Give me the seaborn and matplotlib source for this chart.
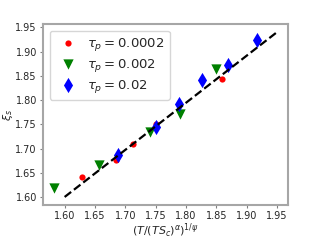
import numpy as np
import pandas as pd
import matplotlib
matplotlib.use("Agg")
import matplotlib.pyplot as plt
import seaborn as sns

# data
x_red = [1.628, 1.684, 1.713, 1.750, 1.859]
y_red = [1.642, 1.676, 1.709, 1.750, 1.844]

x_green = [1.583, 1.656, 1.740, 1.790, 1.849]
y_green = [1.619, 1.666, 1.734, 1.772, 1.865]

x_blue = [1.688, 1.751, 1.788, 1.826, 1.869, 1.917]
y_blue = [1.686, 1.744, 1.792, 1.841, 1.872, 1.924]

fit_x = [1.60, 1.95]
fit_y = [1.60, 1.94]

labels = [r"$\tau_p = 0.0002$", r"$\tau_p = 0.002$", r"$\tau_p = 0.02$"]


def main():
    sns.set_style("ticks")
    fig, ax = plt.subplots(figsize=(3.2, 2.4), dpi=100)
    fig.subplots_adjust(left=0.135, right=0.9, bottom=0.145, top=0.9)

    sns.scatterplot(x=x_red, y=y_red, ax=ax, color="red", marker="o", s=20,
                    linewidth=0, label=labels[0])
    sns.scatterplot(x=x_green, y=y_green, ax=ax, color="green", marker="v", s=55,
                    linewidth=0, label=labels[1])
    sns.scatterplot(x=x_blue, y=y_blue, ax=ax, color="blue", marker="d", s=60,
                    linewidth=0, label=labels[2])
    sns.lineplot(x=fit_x, y=fit_y, ax=ax, color="black", linestyle="--", linewidth=1.6)

    ax.set_xticks(np.arange(1.60, 1.951, 0.05))
    ax.set_yticks(np.arange(1.60, 1.951, 0.05))
    ax.tick_params(labelsize=7, length=2.5, pad=2, color="0.5")
    for sp in ax.spines.values():
        sp.set_color("0.65")
        sp.set_linewidth(1.5)

    ax.set_xlabel(r"$(T/(TS_c)^{\alpha})^{1/\psi}$", fontsize=8, labelpad=0)
    ax.set_ylabel(r"$\xi_s$", fontsize=8, labelpad=0)
    ax.legend(loc="upper left", fontsize=9.5, handletextpad=0.4, borderpad=0.4,
              labelspacing=0.3)

    fig.savefig("out.png", dpi=100)


if __name__ == "__main__":
    main()
